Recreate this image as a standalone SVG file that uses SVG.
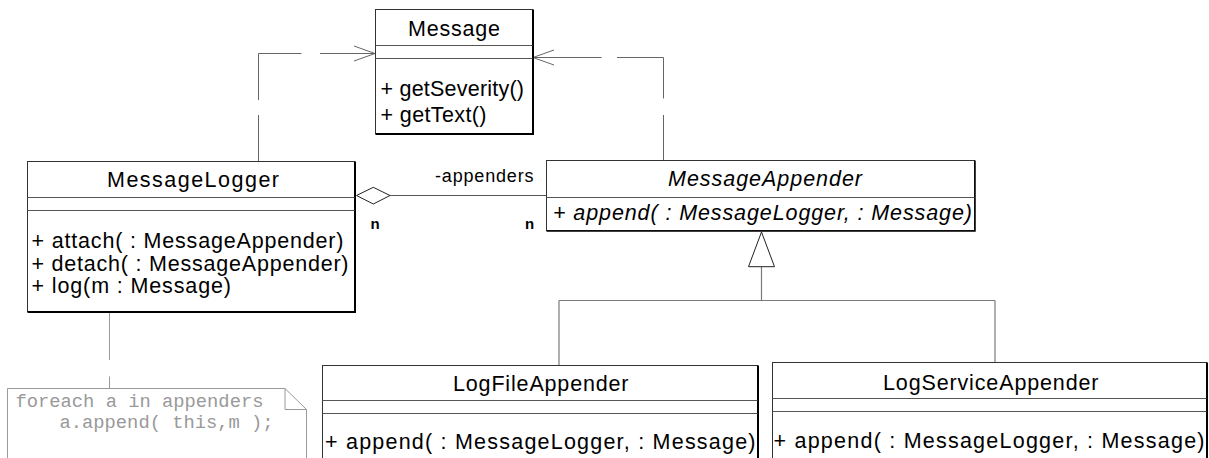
<svg xmlns="http://www.w3.org/2000/svg" width="1209" height="458" viewBox="0 0 1209 458">
  <style>
    .box { fill: #ffffff; stroke: #333333; stroke-width: 1; }
    .shadow { fill: none; stroke: #000000; stroke-width: 2; }
    .sep { fill: none; stroke: #555555; stroke-width: 1; }
    .t { font-family: "Liberation Sans", Arial, sans-serif; font-size: 21.5px; fill: #000000; }
    .it { font-style: italic; }
    .lbl { font-family: "Liberation Sans", Arial, sans-serif; font-size: 18px; fill: #000000; }
    .mult { font-family: "Liberation Sans", Arial, sans-serif; font-size: 15px; font-weight: bold; fill: #000000; }
    .dep { fill: none; stroke: #666666; stroke-width: 1; }
    .line { fill: none; stroke: #7a7a7a; stroke-width: 1.2; }
    .head { fill: #ffffff; stroke: #222222; stroke-width: 1; }
    .note { fill: #ffffff; stroke: #9a9a9a; stroke-width: 1; }
    .code { font-family: "Liberation Mono", "Courier New", monospace; font-size: 18.8px; fill: #999999; }
  </style>

  <!-- connectors -->
  <g id="connectors">
    <!-- MessageLogger uses Message -->
    <path class="dep" d="M258.5,161.5 V115 M258.5,100 V53.5 H301.5 M320,53.5 H375"/>
    <polyline class="dep" points="354,46 375,53.5 354,61"/>
    <!-- MessageAppender uses Message -->
    <path class="dep" d="M663.5,160.5 V115 M663.5,98.5 V57.5 H617 M601.5,57.5 H533"/>
    <polyline class="dep" points="554,50 533,57.5 554,65"/>
    <!-- aggregation: MessageLogger holds appenders -->
    <line class="line" x1="390" y1="195.5" x2="546.5" y2="195.5" style="stroke:#555555"/>
    <polygon class="head" points="356.5,195.5 373.3,187.3 390,195.5 373.3,204"/>
    <text class="lbl" x="435" y="181.7" textLength="98.5" lengthAdjust="spacing">-appenders</text>
    <text class="mult" x="370.5" y="229">n</text>
    <text class="mult" x="525" y="229">n</text>
    <!-- generalization tree -->
    <path class="line" d="M761.5,266.7 V300.5 M559,300.5 H995 M559,300.5 V365.5 M995,300.5 V362.5"/>
    <polygon class="head" points="761.5,232 748.5,266.7 774.5,266.7"/>
    <!-- note anchor -->
    <path class="note" d="M109.5,312 V360 M109.5,376.5 V388.5" style="fill:none"/>
  </g>

  <!-- Message -->
  <g id="Message">
    <rect class="box" x="375.5" y="9.5" width="157" height="124"/>
    <path class="shadow" d="M533,9.5 V134 H375.5"/>
    <line class="sep" x1="375.5" y1="45.5" x2="532.5" y2="45.5"/>
    <line class="sep" x1="375.5" y1="58.5" x2="532.5" y2="58.5"/>
    <text class="t" x="408" y="36" textLength="92" lengthAdjust="spacing">Message</text>
    <text class="t" x="380.5" y="95.5" textLength="143.5" lengthAdjust="spacing">+ getSeverity()</text>
    <text class="t" x="380.5" y="122" textLength="106" lengthAdjust="spacing">+ getText()</text>
  </g>

  <!-- MessageLogger -->
  <g id="MessageLogger">
    <rect class="box" x="27.5" y="161.5" width="327" height="150"/>
    <path class="shadow" d="M355,161.5 V312 H27.5"/>
    <line class="sep" x1="27.5" y1="197.5" x2="354.5" y2="197.5"/>
    <line class="sep" x1="27.5" y1="210.5" x2="354.5" y2="210.5"/>
    <text class="t" x="107" y="187.3" textLength="172" lengthAdjust="spacing">MessageLogger</text>
    <text class="t" x="31.5" y="248" textLength="312" lengthAdjust="spacing">+ attach( : MessageAppender)</text>
    <text class="t" x="31.5" y="271" textLength="317" lengthAdjust="spacing">+ detach( : MessageAppender)</text>
    <text class="t" x="31.5" y="293" textLength="199.5" lengthAdjust="spacing">+ log(m : Message)</text>
  </g>

  <!-- MessageAppender (abstract) -->
  <g id="MessageAppender">
    <rect class="box" x="546.5" y="160.5" width="428" height="70"/>
    <path class="shadow" d="M975,160.5 V231 H546.5" style="stroke-width:1.5"/>
    <line class="sep" x1="546.5" y1="197.5" x2="974.5" y2="197.5"/>
    <text class="t it" x="668" y="185.7" textLength="194" lengthAdjust="spacing">MessageAppender</text>
    <text class="t it" x="553" y="220" textLength="419" lengthAdjust="spacing">+ append( : MessageLogger, : Message)</text>
  </g>

  <!-- LogFileAppender -->
  <g id="LogFileAppender">
    <rect class="box" x="322.5" y="365.5" width="435" height="120"/>
    <path class="shadow" d="M758,365.5 V486"/>
    <line class="sep" x1="322.5" y1="400.5" x2="757.5" y2="400.5"/>
    <line class="sep" x1="322.5" y1="413.5" x2="757.5" y2="413.5"/>
    <text class="t" x="453" y="391" textLength="175.5" lengthAdjust="spacing">LogFileAppender</text>
    <text class="t" x="325" y="449" textLength="430.5" lengthAdjust="spacing">+ append( : MessageLogger, : Message)</text>
  </g>

  <!-- LogServiceAppender -->
  <g id="LogServiceAppender">
    <rect class="box" x="772.5" y="362.5" width="434" height="120"/>
    <path class="shadow" d="M1207,362.5 V483"/>
    <line class="sep" x1="772.5" y1="398.5" x2="1206.5" y2="398.5"/>
    <line class="sep" x1="772.5" y1="411.5" x2="1206.5" y2="411.5"/>
    <text class="t" x="883" y="390" textLength="215.5" lengthAdjust="spacing">LogServiceAppender</text>
    <text class="t" x="773.5" y="448.3" textLength="431" lengthAdjust="spacing">+ append( : MessageLogger, : Message)</text>
  </g>

  <!-- note attached to MessageLogger.log -->
  <g id="note">
    <path class="note" d="M7.5,388.5 H285 L306.5,409.5 V470 H7.5 Z"/>
    <path class="note" d="M285,388.5 V409.5 H306.5" style="fill:none"/>
    <text class="code" x="15.5" y="407.3">foreach a in appenders</text>
    <text class="code" x="59.5" y="428.3">a.append( this,m );</text>
  </g>
</svg>
